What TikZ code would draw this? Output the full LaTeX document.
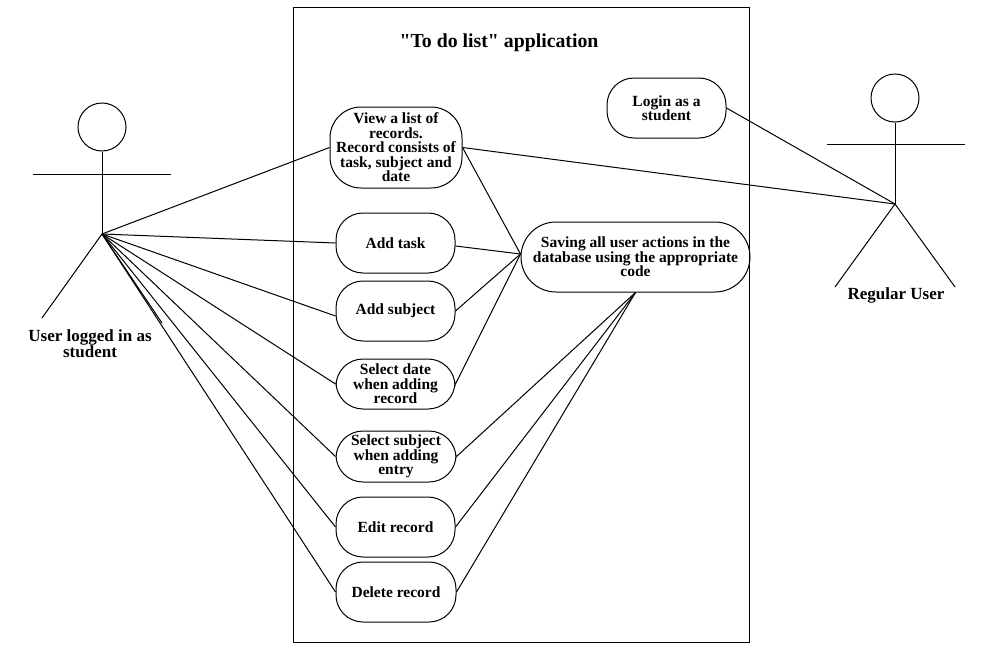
\documentclass[tikz,border=0pt]{standalone}
\usepackage{fontspec}
\setmainfont{Liberation Serif}[Ligatures=TeXOff]
\tikzset{
  usecase/.style={draw,rounded corners=27pt,align=center,font=\fontsize{15.5}{14.5}\selectfont\bfseries,inner sep=0pt},
  actorname/.style={align=center,font=\fontsize{17}{16}\selectfont\bfseries},
  actorhead/.style={draw,circle,minimum size=48pt,inner sep=0pt}
}

\begin{document}
\begin{tikzpicture}[x=1pt,y=-1pt,line width=1pt]
  \useasboundingbox (0,0) rectangle (993,653);
  \node[draw,minimum width=456pt,minimum height=635pt,anchor=north west] (system) at (293,6.5) {};
  \node[font=\fontsize{19.8}{20}\selectfont\bfseries] (title) at (499,43) {"To do list" application};

  % use cases
  \node[usecase,rounded corners=31pt,minimum width=132pt,minimum height=81pt] (view) at (396,147.5) {View a list of\\records.\\Record consists of\\task, subject and\\date};
  \node[usecase,minimum width=119pt,minimum height=60pt] (login) at (666.5,108) {Login as a\\student};
  \node[usecase,minimum width=119pt,minimum height=60pt] (addtask) at (395.5,243) {Add task};
  \node[usecase,minimum width=119pt,minimum height=60pt] (addsubject) at (395.5,311) {Add subject};
  \node[usecase,minimum width=119pt,minimum height=50pt] (seldate) at (395.5,384) {Select date\\when adding\\record};
  \node[usecase,minimum width=120pt,minimum height=51pt] (selsubject) at (396,456.5) {Select subject\\when adding\\entry};
  \node[usecase,minimum width=119pt,minimum height=60pt] (edit) at (395.5,527) {Edit record};
  \node[usecase,minimum width=120pt,minimum height=60pt] (delete) at (396,592) {Delete record};
  \node[usecase,rounded corners=35pt,minimum width=229pt,minimum height=70pt] (saving) at (635.5,257) {Saving all user actions in the\\database using the appropriate\\code};

  % left actor
  \node[actorhead] (headl) at (102,127) {};
  \coordinate (hubl) at (102,234);
  \coordinate (arml1) at (33,174);
  \coordinate (arml2) at (171,174);
  \coordinate (legl1) at (42,318);
  \coordinate (legl2) at (162,323);
  \draw (headl.south) -- (hubl);
  \draw (arml1) -- (arml2);
  \draw (legl1) -- (hubl) -- (legl2);
  \node[actorname] (namel) at (90,344) {User logged in as\\student};

  % right actor
  \node[actorhead] (headr) at (895,98) {};
  \coordinate (hubr) at (895,204);
  \coordinate (armr1) at (827,144);
  \coordinate (armr2) at (965,144);
  \coordinate (legr1) at (835,287);
  \coordinate (legr2) at (955,287);
  \draw (headr.south) -- (hubr);
  \draw (armr1) -- (armr2);
  \draw (legr1) -- (hubr) -- (legr2);
  \node[actorname] (namer) at (896,295.5) {Regular User};

  % connectors
  \foreach \uc in {view,addtask,seldate,selsubject,edit,delete}
    \draw (hubl) -- (\uc.west);
  \draw (hubl) -- ([yshift=-5pt]addsubject.west);
  \draw (view.east) -- (hubr);
  \draw (login.east) -- (hubr);
  \coordinate (savingin) at ([yshift=3pt]saving.west);
  \draw (view.east) -- (savingin);
  \draw ([yshift=-3pt]addtask.east) -- (savingin);
  \draw (addsubject.east) -- (savingin);
  \draw (seldate.east) -- (savingin);
  \foreach \uc in {selsubject,edit,delete}
    \draw (\uc.east) -- (saving.south);
\end{tikzpicture}
\end{document}
